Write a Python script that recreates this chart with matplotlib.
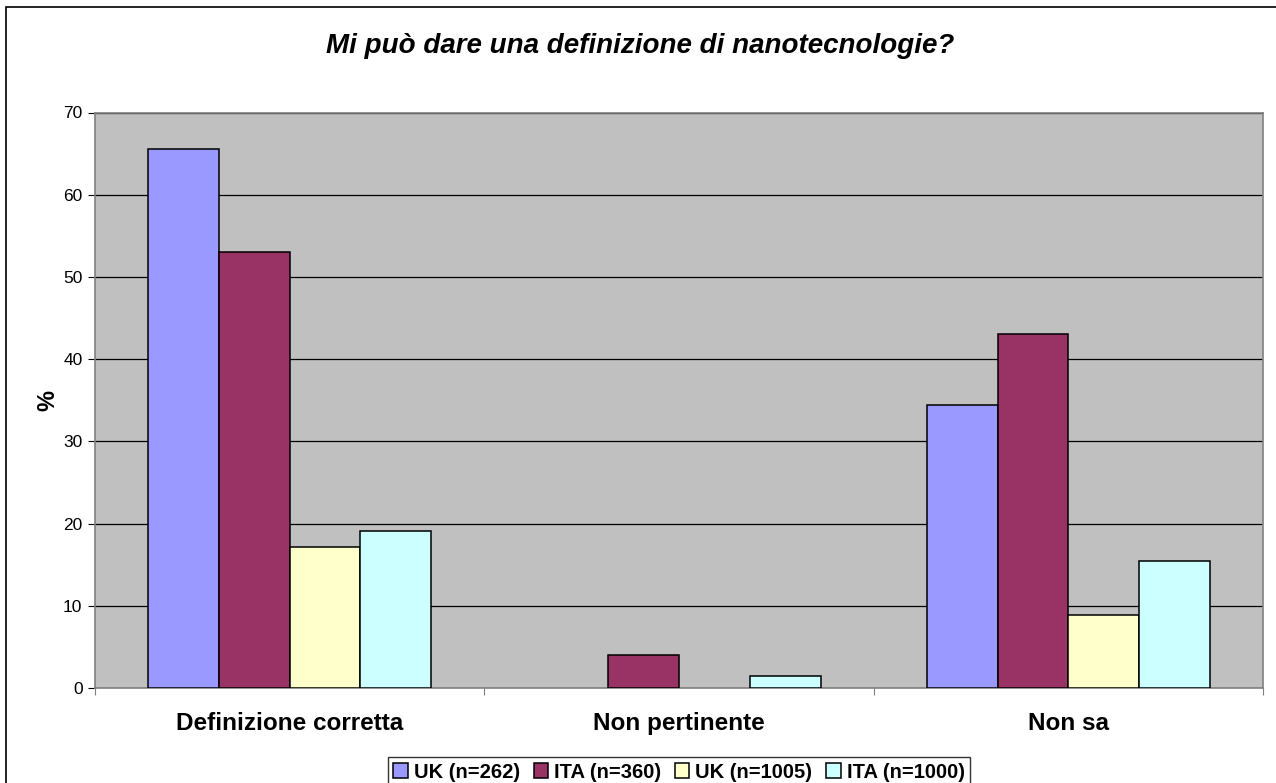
import numpy as np
import matplotlib
matplotlib.use("Agg")
import matplotlib.pyplot as plt
from matplotlib.patches import Rectangle

plt.rcParams['font.family'] = ['Liberation Sans', 'DejaVu Sans']

categories = ["Definizione corretta", "Non pertinente", "Non sa"]
series_names = ["UK (n=262)", "ITA (n=360)", "UK (n=1005)", "ITA (n=1000)"]
uk_262 = [65.6, 0, 34.4]
ita_360 = [53.0, 4.0, 43.0]
uk_1005 = [17.1, 0, 8.9]
ita_1000 = [19.1, 1.4, 15.5]
colors = ["#9999FF", "#993366", "#FFFFCC", "#CCFFFF"]

fig = plt.figure(figsize=(12.76, 7.83), dpi=100)
ax = fig.add_axes([95 / 1276, 95 / 783, 1168 / 1276, 575.5 / 783])

# outer chart border (right/bottom fall outside the image)
fig.patches.append(Rectangle((6 / 1276, -0.05), 1.2, (776 / 783) + 0.05,
                             transform=fig.transFigure, fill=False,
                             edgecolor="black", linewidth=1.2))

x = np.arange(len(categories))
w = 1 / 5.5
for i, vals in enumerate([uk_262, ita_360, uk_1005, ita_1000]):
    pos = x - 1.5 * w + i * w
    lw = [1.1 if v > 0 else 0 for v in vals]
    ax.bar(pos, vals, width=w, color=colors[i], edgecolor="black",
           linewidth=lw, label=series_names[i], zorder=3)

ax.set_facecolor("#C0C0C0")
ax.set_xlim(-0.5, 2.5)
ax.set_ylim(0, 70)
ax.set_yticks(range(0, 71, 10))
ax.yaxis.grid(True, color="black", linewidth=0.9, zorder=1)
ax.tick_params(axis="y", labelsize=12.5, length=5, color="black", pad=4)

ax.set_xticks([-0.5, 0.5, 1.5, 2.5])
ax.set_xticklabels([])
ax.tick_params(axis="x", length=5, color="#808080")
for xi, c in zip(x, categories):
    ax.text(xi, -4.3, c, ha="center", va="center", fontsize=17.5,
            fontweight="bold", transform=ax.transData)

for s in ax.spines.values():
    s.set_color("#808080")
    s.set_linewidth(1.2)

ax.set_ylabel("%", fontsize=17, fontweight="bold", labelpad=3)

fig.text(640 / 1276, 1 - 46 / 783, "Mi può dare una definizione di nanotecnologie?",
         ha="center", va="center", fontsize=20, fontweight="bold",
         style="italic")

leg = fig.legend(loc="center", bbox_to_anchor=(679 / 1276, 1 - 772 / 783),
                 ncol=4, prop={"weight": "bold", "size": 14.5},
                 frameon=True, fancybox=False, edgecolor="black",
                 handlelength=0.7, handleheight=0.7, handletextpad=0.3,
                 columnspacing=0.7, borderpad=0.25, borderaxespad=0)
leg.get_frame().set_linewidth(1.0)

fig.savefig("out.png", dpi=100)
